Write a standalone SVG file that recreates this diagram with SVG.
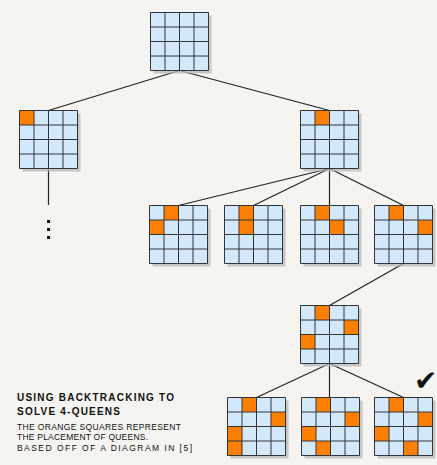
<svg xmlns="http://www.w3.org/2000/svg" width="437" height="465" viewBox="0 0 437 465">
<style>
.bg{fill:#f6f4f0}
.sh{fill:#b8b8b8;opacity:.75}
.cell{fill:#d3e9fb}
.q{fill:#ff7f00}
.grid{fill:none;stroke:#30353a;stroke-width:1}
.edge{stroke:#222;stroke-width:1.2;fill:none}
.t1{font-family:"Liberation Sans",Arial,sans-serif;font-weight:bold;font-size:10px;fill:#111}
.t2{font-family:"Liberation Sans",Arial,sans-serif;font-size:8.5px;fill:#111}
</style>
<defs>
<g id="base">
<rect class="sh" x="3" y="3" width="58" height="58"/>
<rect class="cell" x="0" y="0" width="58" height="58"/>
</g>
<path id="grid" class="grid" d="M0 0H58V58H0Z M14.5 0V58 M29 0V58 M43.5 0V58 M0 14.5H58 M0 29H58 M0 43.5H58"/>
</defs>
<rect class="bg" width="437" height="465"/>
<g id="connectors">
<path class="edge" d="M179.5 70.5L48.5 110.5 M179.5 70.5L329.5 110.5"/>
<path class="edge" d="M48.5 168.5V205"/>
<path class="edge" d="M329.5 168.5L178.5 205.5 M329.5 168.5L253.5 205.5 M329.5 168.5V205.5 M329.5 168.5L403.5 205.5"/>
<path class="edge" d="M403.5 263.5L329.5 305.5"/>
<path class="edge" d="M329.5 363.5L256.5 397.5 M329.5 363.5V397.5 M329.5 363.5L403.5 397.5"/>
</g>
<g id="n-root" transform="translate(150.5 12.5)"><use href="#base"/><use href="#grid"/></g>
<g id="n-left" transform="translate(19.5 110.5)"><use href="#base"/><rect class="q" x="0" y="0" width="14.5" height="14.5"/><use href="#grid"/></g>
<g id="n-left-more" fill="#111"><rect x="47" y="220" width="3" height="3"/><rect x="47" y="228" width="3" height="3"/><rect x="47" y="236" width="3" height="3"/></g>
<g id="n-right" transform="translate(300.5 110.5)"><use href="#base"/><rect class="q" x="14.5" y="0" width="14.5" height="14.5"/><use href="#grid"/></g>
<g id="n-r1" transform="translate(149.5 205.5)"><use href="#base"/><rect class="q" x="14.5" y="0" width="14.5" height="14.5"/><rect class="q" x="0" y="14.5" width="14.5" height="14.5"/><use href="#grid"/></g>
<g id="n-r2" transform="translate(224.5 205.5)"><use href="#base"/><rect class="q" x="14.5" y="0" width="14.5" height="14.5"/><rect class="q" x="14.5" y="14.5" width="14.5" height="14.5"/><use href="#grid"/></g>
<g id="n-r3" transform="translate(300.5 205.5)"><use href="#base"/><rect class="q" x="14.5" y="0" width="14.5" height="14.5"/><rect class="q" x="29" y="14.5" width="14.5" height="14.5"/><use href="#grid"/></g>
<g id="n-r4" transform="translate(374.5 205.5)"><use href="#base"/><rect class="q" x="14.5" y="0" width="14.5" height="14.5"/><rect class="q" x="43.5" y="14.5" width="14.5" height="14.5"/><use href="#grid"/></g>
<g id="n-mid" transform="translate(300.5 305.5)"><use href="#base"/><rect class="q" x="14.5" y="0" width="14.5" height="14.5"/><rect class="q" x="43.5" y="14.5" width="14.5" height="14.5"/><rect class="q" x="0" y="29" width="14.5" height="14.5"/><use href="#grid"/></g>
<g id="n-l1" transform="translate(227.5 397.5)"><use href="#base"/><rect class="q" x="14.5" y="0" width="14.5" height="14.5"/><rect class="q" x="43.5" y="14.5" width="14.5" height="14.5"/><rect class="q" x="0" y="29" width="14.5" height="14.5"/><rect class="q" x="0" y="43.5" width="14.5" height="14.5"/><use href="#grid"/></g>
<g id="n-l2" transform="translate(301.5 397.5)"><use href="#base"/><rect class="q" x="14.5" y="0" width="14.5" height="14.5"/><rect class="q" x="43.5" y="14.5" width="14.5" height="14.5"/><rect class="q" x="0" y="29" width="14.5" height="14.5"/><rect class="q" x="14.5" y="43.5" width="14.5" height="14.5"/><use href="#grid"/></g>
<g id="n-l3" transform="translate(374.5 397.5)"><use href="#base"/><rect class="q" x="14.5" y="0" width="14.5" height="14.5"/><rect class="q" x="43.5" y="14.5" width="14.5" height="14.5"/><rect class="q" x="0" y="29" width="14.5" height="14.5"/><rect class="q" x="29" y="43.5" width="14.5" height="14.5"/><use href="#grid"/></g>
<g id="check"><text x="414" y="390" font-family="DejaVu Sans,sans-serif" font-size="28" font-weight="bold" fill="#111">✔</text></g>
<g id="caption">
<text class="t1" x="17" y="400.5" textLength="157" lengthAdjust="spacing">USING BACKTRACKING TO</text>
<text class="t1" x="17" y="414.5" textLength="103" lengthAdjust="spacing">SOLVE 4-QUEENS</text>
<text class="t2" x="17" y="430" textLength="164" lengthAdjust="spacing">THE ORANGE SQUARES REPRESENT</text>
<text class="t2" x="17" y="440" textLength="131" lengthAdjust="spacing">THE PLACEMENT OF QUEENS.</text>
<text class="t2" x="17" y="450.5" textLength="175" lengthAdjust="spacing">BASED OFF OF A DIAGRAM IN [5]</text>
</g>
</svg>
